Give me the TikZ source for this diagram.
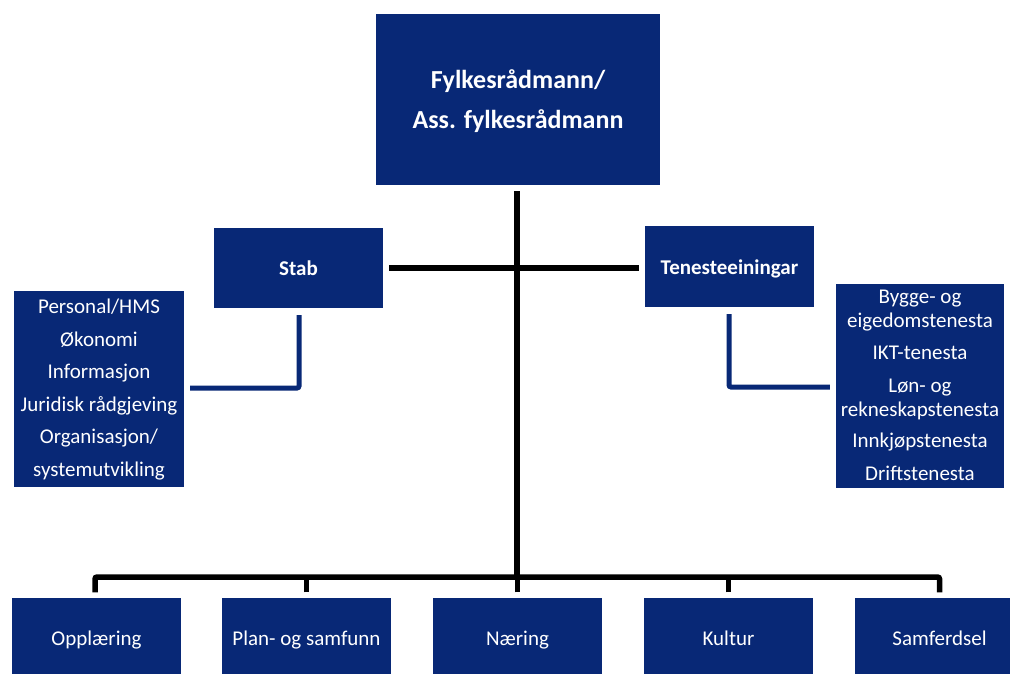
\documentclass[tikz,border=0pt]{standalone}
\usepackage{fontspec}
\setmainfont{Carlito}
\usetikzlibrary{calc}
\definecolor{navy}{RGB}{8,40,118}
\begin{document}
\begin{tikzpicture}[x=1pt,y=-1pt,
  box/.style={fill=navy, draw=none, inner sep=0pt, text=white, anchor=center},
  txt/.style={text=white, inner sep=0pt, align=center, anchor=center},
  basetxt/.style={text=white, inner sep=0pt, anchor=base},
  blackline/.style={line width=5.5pt, draw=black, rounded corners=2pt},
  blueline/.style={line width=5pt, draw=navy, rounded corners=2pt}]
\useasboundingbox (0,0) rectangle (1010,673);
\clip (0,0) rectangle (1010,673);
\fill[white] (0,0) rectangle (1010,673);

% top box
\node[box, minimum width=284pt, minimum height=171pt] (top) at (518,99.5) {};
\node[txt, font=\bfseries\fontsize{26}{40}\selectfont] (toptxt) at (518,101) {Fylkesrådmann/\\Ass. fylkesrådmann};

% Stab and Tenesteeiningar
\node[box, minimum width=169pt, minimum height=80pt] (stab) at (298.5,268) {};
\node[basetxt, font=\bfseries\fontsize{21}{24}\selectfont] (stabt) at (298.5,275) {Stab};
\node[box, minimum width=169pt, minimum height=81pt] (ten) at (729.5,266.5) {};
\node[basetxt, font=\bfseries\fontsize{21}{24}\selectfont] (tent) at (729.5,274) {Tenesteeiningar};

% left list
\node[box, minimum width=170pt, minimum height=196pt] (left) at (99,389) {};
\node[txt, font=\fontsize{21}{32.6}\selectfont] (lefttxt) at (99,389.5) {Personal/HMS\\Økonomi\\Informasjon\\Juridisk rådgjeving\\Organisasjon/\\systemutvikling};

% right list
\node[box, minimum width=168pt, minimum height=204pt] (right) at (920,386) {};
\node[txt, font=\fontsize{21}{24}\selectfont] (righttxt) at (920,385) {Bygge- og\\eigedomstenesta\\[8.5pt]IKT-tenesta\\[8.5pt]Løn- og\\rekneskapstenesta\\[7.5pt]Innkjøpstenesta\\[8.5pt]Driftstenesta};

% bottom boxes
\foreach \n/\x/\t in {b1/96.5/Opplæring, b2/306.5/Plan- og samfunn, b3/517.5/Næring, b4/728.5/Kultur, b5/939.5/Samferdsel}{
  \node[box, minimum width=169pt, minimum height=80pt] (\n) at (\x,637.5) {};
  \node[basetxt, font=\fontsize{21}{24}\selectfont] (\n t) at (\x,645) {\t};
}

% connectors
\coordinate (busmid) at (517,577);
\draw[blackline, rounded corners=0pt] ($(top.south)+(-1,6)$) -- (busmid);
\draw[blackline, rounded corners=0pt] ($(stab.east)+(6,0)$) -- ($(ten.west)+(-6,1.5)$);
\draw[blackline] ($(b1.north)+(-1.5,-5)$) |- (busmid) -| ($(b5.north)+(0,-5)$);
\foreach \n in {b2,b3,b4}{
  \draw[blackline, rounded corners=0pt] ($(\n.north)+(0,-5)$) -- ($(\n.north)+(0,-20.5)$);
}
\draw[blueline] ($(stab.south)+(0.5,7)$) |- ($(left.east)+(6,-1)$);
\draw[blueline] ($(ten.south)+(-0.5,7)$) |- ($(right.west)+(-6,1)$);
\end{tikzpicture}
\end{document}
